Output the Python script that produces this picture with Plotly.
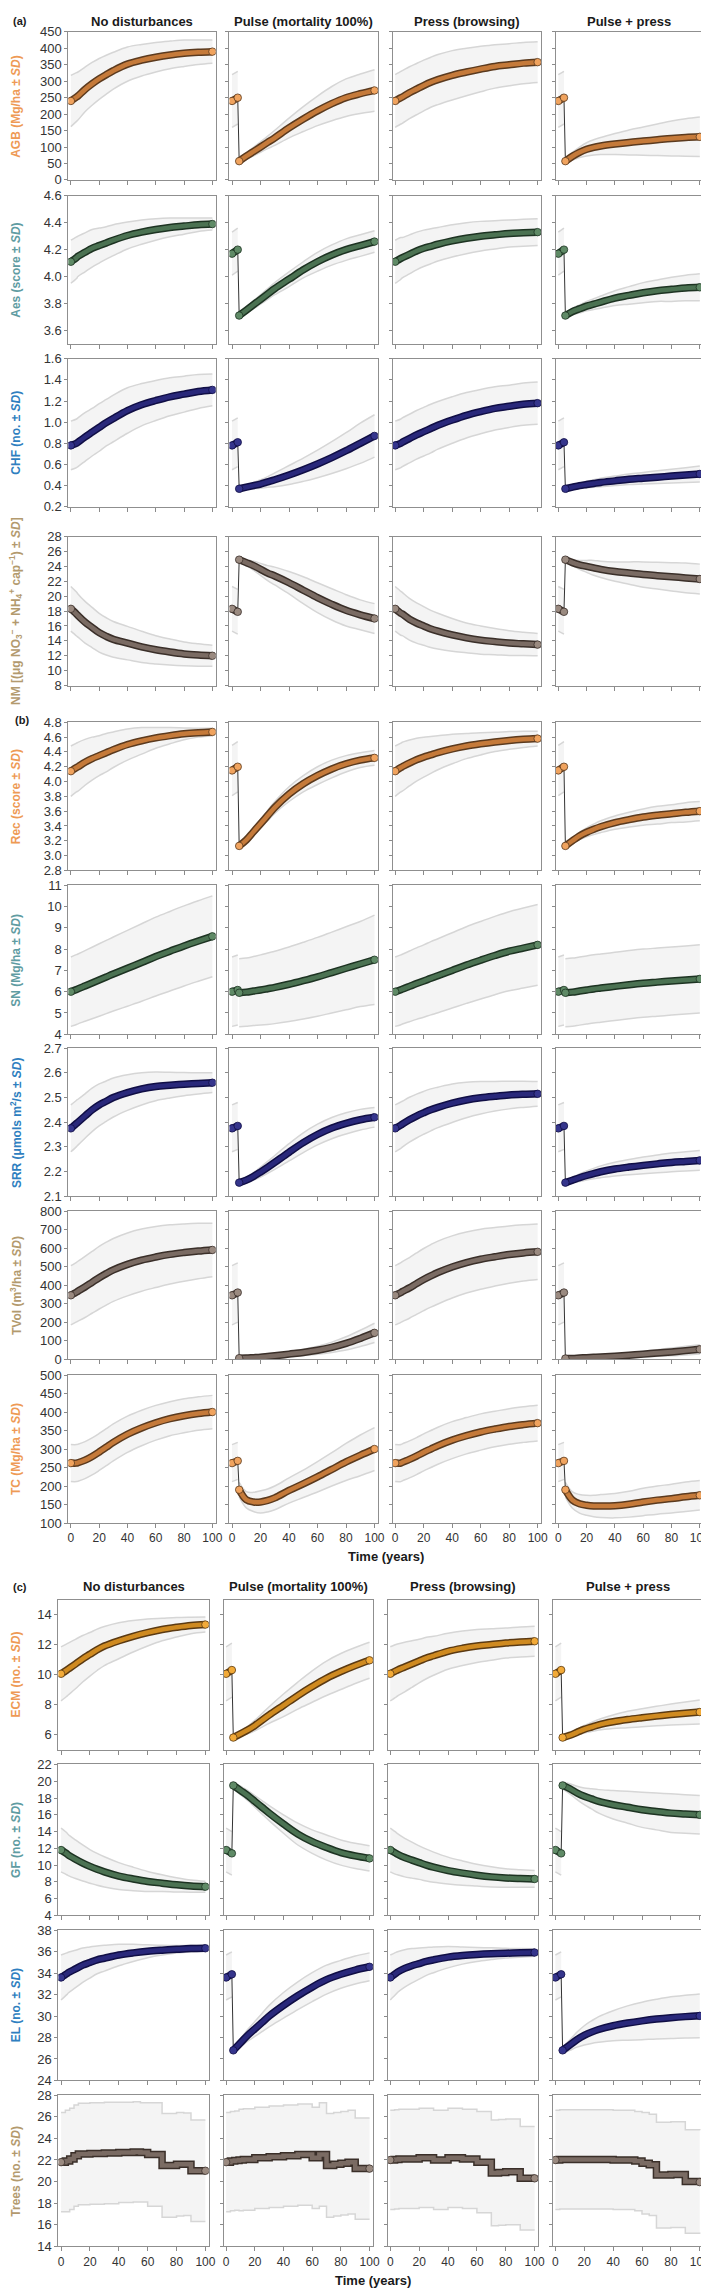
import plotly.graph_objects as go

W, H = 709, 2288
T = [0, 4, 5, 10, 15, 20, 25, 30, 40, 50, 60, 70, 80, 90, 100]
T_trees = [0, 3, 6, 9, 12, 20, 30, 40, 50, 55, 60, 65, 70, 75, 80, 85, 90, 95, 100]
scenarios = ["No disturbances", "Pulse (mortality 100%)", "Press (browsing)", "Pulse + press"]
x_ticks = [0, 20, 40, 60, 80, 100]

# ---- (a) ----
agb_nd = [240,252,255,275,292,307,320,332,352,364,373,380,385,388,390]
agb_nd_sd = [78,74,73,68,65,62,59,56,52,48,45,42,40,37,35]
agb_pu = [240,250,57,72,86,100,114,128,158,185,210,232,250,262,272]
agb_pu_sd = [80,80,8,10,13,16,19,23,30,38,45,52,57,60,63]
agb_pr = [240,250,252,265,276,287,297,305,318,328,337,345,350,355,358]
agb_pr_sd = [80,80,80,79,78,77,76,76,75,72,69,66,64,63,62]
agb_pp = [240,250,57,72,84,93,99,103,109,114,118,122,126,129,131]
agb_pp_sd = [80,80,8,12,16,20,23,26,32,38,43,48,53,57,60]

aes_nd = [4.11,4.14,4.15,4.18,4.21,4.23,4.25,4.27,4.305,4.33,4.35,4.365,4.375,4.385,4.39]
aes_nd_sd = [0.16,0.155,0.15,0.145,0.14,0.13,0.12,0.115,0.10,0.09,0.08,0.07,0.06,0.05,0.045]
aes_pu = [4.17,4.20,3.71,3.75,3.79,3.83,3.87,3.91,3.98,4.05,4.11,4.16,4.20,4.23,4.26]
aes_pu_sd = [0.16,0.16,0.02,0.02,0.03,0.035,0.04,0.045,0.055,0.06,0.07,0.075,0.08,0.08,0.08]
aes_pr = [4.11,4.135,4.14,4.165,4.19,4.21,4.225,4.24,4.265,4.285,4.30,4.31,4.32,4.325,4.33]
aes_pr_sd = [0.16,0.155,0.15,0.145,0.14,0.135,0.13,0.125,0.12,0.115,0.11,0.105,0.10,0.10,0.10]
aes_pp = [4.17,4.20,3.71,3.74,3.76,3.78,3.795,3.81,3.84,3.86,3.88,3.895,3.905,3.915,3.92]
aes_pp_sd = [0.16,0.16,0.02,0.025,0.03,0.035,0.04,0.045,0.055,0.065,0.075,0.08,0.09,0.095,0.10]

chf_nd = [0.78,0.80,0.81,0.86,0.905,0.95,0.995,1.035,1.11,1.165,1.205,1.24,1.265,1.29,1.305]
chf_nd_sd = [0.23,0.23,0.23,0.23,0.225,0.225,0.22,0.22,0.215,0.2,0.19,0.18,0.17,0.16,0.15]
chf_pu = [0.78,0.81,0.37,0.385,0.40,0.415,0.435,0.455,0.50,0.55,0.605,0.665,0.73,0.80,0.87]
chf_pu_sd = [0.23,0.23,0.015,0.02,0.03,0.04,0.05,0.065,0.09,0.11,0.13,0.15,0.17,0.19,0.2]
chf_pr = [0.78,0.80,0.81,0.845,0.88,0.91,0.94,0.97,1.02,1.065,1.10,1.13,1.15,1.17,1.18]
chf_pr_sd = [0.23,0.23,0.23,0.23,0.23,0.23,0.23,0.225,0.22,0.215,0.21,0.205,0.2,0.2,0.2]
chf_pp = [0.78,0.81,0.37,0.385,0.40,0.41,0.42,0.43,0.445,0.46,0.47,0.48,0.49,0.50,0.51]
chf_pp_sd = [0.23,0.23,0.015,0.02,0.025,0.03,0.035,0.04,0.045,0.05,0.055,0.06,0.065,0.07,0.075]

nm_nd = [18.3,17.6,17.4,16.5,15.8,15.1,14.6,14.2,13.7,13.2,12.8,12.5,12.25,12.1,12.0]
nm_nd_sd = [3.0,2.95,2.9,2.8,2.7,2.6,2.5,2.4,2.25,2.1,1.9,1.75,1.6,1.5,1.4]
nm_pu = [18.3,17.9,24.9,24.5,24.1,23.6,23.1,22.7,21.8,20.8,19.8,18.9,18.1,17.5,17.0]
nm_pu_sd = [3.0,3.0,0.3,0.4,0.6,0.8,1.0,1.2,1.5,1.8,2.0,2.1,2.1,2.0,2.0]
nm_pr = [18.3,17.7,17.6,16.9,16.4,16.0,15.6,15.3,14.8,14.4,14.1,13.9,13.7,13.6,13.5]
nm_pr_sd = [3.0,2.95,2.9,2.8,2.7,2.6,2.5,2.4,2.2,2.0,1.9,1.75,1.65,1.55,1.5]
nm_pp = [18.3,17.9,24.9,24.5,24.2,24.0,23.8,23.6,23.3,23.1,22.9,22.75,22.6,22.45,22.3]
nm_pp_sd = [3.0,3.0,0.3,0.4,0.6,0.8,1.0,1.1,1.3,1.5,1.7,1.8,1.9,2.0,2.0]

# ---- (b) ----
rec_nd = [4.14,4.19,4.20,4.26,4.31,4.35,4.39,4.43,4.50,4.55,4.59,4.62,4.645,4.66,4.67]
rec_nd_sd = [0.34,0.33,0.33,0.31,0.29,0.27,0.26,0.24,0.21,0.18,0.14,0.11,0.08,0.06,0.05]
rec_pu = [4.15,4.20,3.13,3.21,3.32,3.43,3.54,3.65,3.83,3.97,4.08,4.17,4.24,4.29,4.32]
rec_pu_sd = [0.34,0.34,0.03,0.04,0.05,0.06,0.07,0.08,0.10,0.11,0.12,0.12,0.11,0.10,0.10]
rec_pr = [4.14,4.19,4.20,4.25,4.295,4.33,4.36,4.39,4.44,4.48,4.51,4.535,4.555,4.57,4.58]
rec_pr_sd = [0.34,0.33,0.33,0.31,0.29,0.27,0.25,0.23,0.2,0.17,0.15,0.13,0.12,0.11,0.10]
rec_pp = [4.15,4.20,3.13,3.20,3.265,3.315,3.355,3.39,3.445,3.485,3.52,3.545,3.565,3.585,3.60]
rec_pp_sd = [0.34,0.34,0.03,0.04,0.05,0.06,0.07,0.08,0.09,0.10,0.11,0.12,0.12,0.13,0.13]

sn_nd = [6.0,6.1,6.13,6.27,6.41,6.55,6.69,6.83,7.1,7.37,7.65,7.9,8.15,8.38,8.6]
sn_nd_sd = [1.63,1.64,1.64,1.66,1.68,1.7,1.72,1.74,1.78,1.82,1.85,1.87,1.88,1.89,1.9]
sn_pu = [6.0,6.08,5.95,5.98,6.03,6.08,6.14,6.2,6.35,6.52,6.7,6.9,7.1,7.3,7.5]
sn_pu_sd = [1.63,1.64,1.6,1.6,1.62,1.65,1.68,1.7,1.75,1.8,1.85,1.9,1.95,2.0,2.1]
sn_pr = [6.0,6.09,6.12,6.25,6.38,6.5,6.63,6.75,7.0,7.25,7.48,7.7,7.9,8.05,8.2]
sn_pr_sd = [1.63,1.64,1.64,1.66,1.68,1.7,1.72,1.74,1.77,1.8,1.82,1.84,1.86,1.88,1.9]
sn_pp = [6.0,6.08,5.95,5.98,6.03,6.08,6.13,6.17,6.25,6.33,6.4,6.45,6.5,6.55,6.6]
sn_pp_sd = [1.63,1.64,1.6,1.6,1.6,1.6,1.6,1.6,1.6,1.6,1.6,1.6,1.6,1.6,1.6]

srr_nd = [2.375,2.395,2.40,2.425,2.45,2.47,2.485,2.50,2.52,2.535,2.545,2.55,2.554,2.557,2.56]
srr_nd_sd = [0.095,0.094,0.093,0.09,0.088,0.085,0.082,0.079,0.072,0.065,0.058,0.052,0.047,0.043,0.04]
srr_pu = [2.375,2.385,2.155,2.165,2.18,2.198,2.217,2.237,2.278,2.317,2.35,2.376,2.395,2.41,2.42]
srr_pu_sd = [0.095,0.095,0.01,0.012,0.015,0.02,0.024,0.028,0.035,0.04,0.042,0.043,0.043,0.042,0.04]
srr_pr = [2.375,2.388,2.392,2.41,2.425,2.438,2.45,2.46,2.477,2.49,2.499,2.505,2.51,2.513,2.515]
srr_pr_sd = [0.095,0.094,0.093,0.091,0.089,0.087,0.085,0.082,0.078,0.072,0.066,0.06,0.056,0.053,0.05]
srr_pp = [2.375,2.385,2.155,2.165,2.175,2.184,2.192,2.199,2.21,2.218,2.225,2.231,2.237,2.241,2.245]
srr_pp_sd = [0.095,0.095,0.01,0.012,0.015,0.018,0.021,0.024,0.028,0.031,0.034,0.036,0.038,0.039,0.04]

tvol_nd = [345,362,367,390,415,440,462,482,512,535,552,566,576,584,590]
tvol_nd_sd = [160,161,162,165,167,169,170,170,170,168,165,160,155,150,145]
tvol_pu = [345,360,5,6,8,10,14,18,27,36,48,64,85,112,142]
tvol_pu_sd = [160,160,3,4,5,6,8,10,13,17,22,28,36,44,52]
tvol_pr = [345,360,365,385,408,430,450,468,498,522,540,553,565,574,580]
tvol_pr_sd = [160,161,162,164,166,168,169,170,168,165,162,158,155,152,150]
tvol_pp = [345,360,3,4,6,8,10,12,16,21,27,33,39,46,53]
tvol_pp_sd = [160,160,3,3,4,5,6,7,9,12,15,18,21,23,25]

tc_nd = [262,262,263,270,280,292,305,318,340,357,371,382,390,396,400]
tc_nd_sd = [50,50,50,50,50,50,50,50,49,48,47,46,46,45,45]
tc_pu = [262,268,190,163,157,157,161,168,188,206,225,245,265,283,300]
tc_pu_sd = [50,50,20,22,26,30,31,32,34,37,41,45,50,55,58]
tc_pr = [262,262,264,272,281,291,300,309,324,336,346,354,361,366,370]
tc_pr_sd = [50,50,50,50,50,50,50,50,50,49,49,48,48,48,48]
tc_pp = [262,268,190,162,152,148,146,146,147,151,157,162,166,171,175]
tc_pp_sd = [50,50,20,22,25,27,29,31,33,35,37,38,39,40,40]

# ---- (c) ----
ecm_nd = [10.05,10.3,10.37,10.7,11.05,11.35,11.65,11.9,12.25,12.55,12.8,13.0,13.15,13.27,13.33]
ecm_nd_sd = [1.8,1.75,1.73,1.65,1.55,1.45,1.38,1.3,1.2,1.05,0.9,0.75,0.65,0.55,0.5]
ecm_pu = [10.05,10.3,5.8,6.05,6.3,6.6,6.95,7.3,7.95,8.6,9.2,9.75,10.2,10.6,10.95]
ecm_pu_sd = [1.8,1.8,0.1,0.15,0.25,0.35,0.45,0.55,0.75,0.9,1.05,1.15,1.2,1.2,1.2]
ecm_pr = [10.05,10.25,10.3,10.5,10.7,10.9,11.1,11.25,11.55,11.75,11.9,12.0,12.1,12.17,12.22]
ecm_pr_sd = [1.8,1.75,1.73,1.65,1.55,1.45,1.38,1.3,1.2,1.15,1.1,1.05,1.0,1.0,1.0]
ecm_pp = [10.05,10.3,5.8,5.95,6.15,6.35,6.5,6.65,6.85,7.0,7.12,7.23,7.33,7.42,7.5]
ecm_pp_sd = [1.8,1.8,0.1,0.15,0.2,0.25,0.3,0.35,0.45,0.55,0.6,0.65,0.7,0.75,0.8]

gf_nd = [11.8,11.35,11.2,10.7,10.25,9.85,9.5,9.2,8.7,8.35,8.05,7.85,7.65,7.5,7.43]
gf_nd_sd = [2.6,2.5,2.45,2.3,2.15,2.0,1.9,1.8,1.6,1.4,1.2,1.0,0.85,0.72,0.65]
gf_pu = [11.8,11.4,19.5,18.9,18.3,17.6,16.9,16.2,14.9,13.7,12.8,12.1,11.5,11.1,10.8]
gf_pu_sd = [2.6,2.6,0.4,0.5,0.6,0.7,0.8,0.9,1.1,1.3,1.4,1.5,1.5,1.5,1.5]
gf_pr = [11.8,11.4,11.3,10.9,10.6,10.3,10.0,9.75,9.35,9.05,8.8,8.6,8.47,8.4,8.35]
gf_pr_sd = [2.6,2.5,2.45,2.3,2.15,2.0,1.9,1.8,1.6,1.45,1.3,1.2,1.1,1.05,1.0]
gf_pp = [11.8,11.4,19.5,19.1,18.6,18.2,17.9,17.6,17.2,16.9,16.6,16.4,16.2,16.1,16.0]
gf_pp_sd = [2.6,2.6,0.4,0.6,0.8,1.0,1.2,1.4,1.7,1.9,2.1,2.2,2.3,2.3,2.3]

el_nd = [33.6,33.95,34.05,34.4,34.75,35.0,35.25,35.4,35.7,35.9,36.05,36.15,36.23,36.3,36.33]
el_nd_sd = [2.1,1.95,1.9,1.75,1.6,1.45,1.3,1.2,1.0,0.8,0.6,0.45,0.35,0.3,0.25]
el_pu = [33.6,33.9,26.8,27.5,28.2,28.8,29.4,30.0,31.0,31.9,32.7,33.4,33.9,34.3,34.6]
el_pu_sd = [2.1,2.1,0.3,0.4,0.55,0.7,0.85,1.0,1.2,1.3,1.35,1.35,1.3,1.3,1.3]
el_pr = [33.6,34.0,34.1,34.45,34.7,34.9,35.1,35.25,35.5,35.65,35.75,35.82,35.87,35.9,35.93]
el_pr_sd = [2.1,1.95,1.9,1.75,1.6,1.45,1.3,1.2,1.0,0.8,0.65,0.55,0.45,0.4,0.35]
el_pp = [33.6,33.9,26.8,27.3,27.8,28.2,28.5,28.75,29.1,29.35,29.55,29.72,29.85,29.95,30.02]
el_pp_sd = [2.1,2.1,0.3,0.5,0.7,0.9,1.05,1.2,1.4,1.6,1.75,1.85,1.95,2.0,2.05]

trees_nd = [21.8,21.9,22.1,22.4,22.55,22.6,22.65,22.7,22.75,22.7,22.5,22.5,21.5,21.5,21.6,21.6,21.0,21.0,21.0]
trees_nd_sd = [4.6,4.7,4.7,4.7,4.7,4.7,4.7,4.65,4.65,4.6,4.8,4.8,4.8,4.8,4.8,4.75,4.7,4.7,4.7]
trees_pu = [21.8,21.9,21.95,22.0,22.05,22.2,22.3,22.4,22.5,22.5,22.2,22.5,21.5,21.6,21.7,21.8,21.2,21.2,21.2]
trees_pu_sd = [4.6,4.6,4.6,4.7,4.7,4.7,4.7,4.7,4.7,4.7,4.7,4.8,4.8,4.8,4.8,4.8,4.7,4.7,4.7]
trees_pr = [22.0,22.05,22.1,22.1,22.1,22.2,22.0,22.2,22.1,22.1,21.8,21.8,20.8,20.85,20.9,20.9,20.3,20.3,20.3]
trees_pr_sd = [4.6,4.6,4.6,4.6,4.6,4.6,4.6,4.6,4.6,4.6,4.7,4.7,4.9,4.9,4.9,4.9,4.8,4.8,4.8]
trees_pp = [22.0,22.05,22.05,22.05,22.05,22.05,22.05,22.0,22.0,21.9,21.7,21.55,20.6,20.6,20.65,20.65,20.0,20.0,19.95]
trees_pp_sd = [4.6,4.6,4.6,4.6,4.6,4.6,4.6,4.6,4.6,4.6,4.7,4.7,4.9,4.9,4.9,4.9,4.8,4.8,4.8]

# ---- styling ----
PAL = {
    "orange": dict(title="#EE9A55", out="#5b3a1e", inn="#c57a3a", mk="#f0a35e"),
    "gold":   dict(title="#EE9A55", out="#5b3a12", inn="#cf8a20", mk="#f2aa38"),
    "green":  dict(title="#5f9ca2", out="#1d3322", inn="#4b7252", mk="#5f8a66"),
    "blue":   dict(title="#2f7fc0", out="#100e45", inn="#29287a", mk="#35358c"),
    "tan":    dict(title="#b39a6e", out="#3a2f29", inn="#7a6b63", mk="#9a8a80"),
}

A_COLS = [(60, 209), (223, 373), (388, 538), (553, 702)]
C_COLS = [(50, 202), (217, 368), (383, 535), (550, 702)]

rows = [
    ("AGB (Mg/ha ± <i>SD</i>)", [0, 450], list(range(0, 451, 50)), "{:d}", "orange",
     [(agb_nd, agb_nd_sd), (agb_pu, agb_pu_sd), (agb_pr, agb_pr_sd), (agb_pp, agb_pp_sd)], 17, 166, A_COLS, False),
    ("Aes (score ± <i>SD</i>)", [3.5, 4.6], [3.6, 3.8, 4.0, 4.2, 4.4, 4.6], "{:.1f}", "green",
     [(aes_nd, aes_nd_sd), (aes_pu, aes_pu_sd), (aes_pr, aes_pr_sd), (aes_pp, aes_pp_sd)], 182, 331, A_COLS, False),
    ("CHF (no. ± <i>SD</i>)", [0.2, 1.6], [0.2, 0.4, 0.6, 0.8, 1.0, 1.2, 1.4, 1.6], "{:.1f}", "blue",
     [(chf_nd, chf_nd_sd), (chf_pu, chf_pu_sd), (chf_pr, chf_pr_sd), (chf_pp, chf_pp_sd)], 346, 495, A_COLS, False),
    ("NM [(μg NO<sub>3</sub><sup>−</sup> + NH<sub>4</sub><sup>+</sup> cap<sup>−1</sup>) ± <i>SD</i>]", [8, 28], list(range(8, 29, 2)), "{:d}", "tan",
     [(nm_nd, nm_nd_sd), (nm_pu, nm_pu_sd), (nm_pr, nm_pr_sd), (nm_pp, nm_pp_sd)], 525, 675, A_COLS, False),
    ("Rec (score ± <i>SD</i>)", [2.8, 4.8], [2.8, 3.0, 3.2, 3.4, 3.6, 3.8, 4.0, 4.2, 4.4, 4.6, 4.8], "{:.1f}", "orange",
     [(rec_nd, rec_nd_sd), (rec_pu, rec_pu_sd), (rec_pr, rec_pr_sd), (rec_pp, rec_pp_sd)], 712, 861, A_COLS, False),
    ("SN (Mg/ha ± <i>SD</i>)", [4, 11], list(range(4, 12)), "{:d}", "green",
     [(sn_nd, sn_nd_sd), (sn_pu, sn_pu_sd), (sn_pr, sn_pr_sd), (sn_pp, sn_pp_sd)], 876, 1026, A_COLS, False),
    ("SRR (μmols m<sup>2</sup>/s ± <i>SD</i>)", [2.1, 2.7], [2.1, 2.2, 2.3, 2.4, 2.5, 2.6, 2.7], "{:.1f}", "blue",
     [(srr_nd, srr_nd_sd), (srr_pu, srr_pu_sd), (srr_pr, srr_pr_sd), (srr_pp, srr_pp_sd)], 1040, 1189, A_COLS, False),
    ("TVol (m<sup>3</sup>/ha ± <i>SD</i>)", [0, 800], list(range(0, 801, 100)), "{:d}", "tan",
     [(tvol_nd, tvol_nd_sd), (tvol_pu, tvol_pu_sd), (tvol_pr, tvol_pr_sd), (tvol_pp, tvol_pp_sd)], 1204, 1353, A_COLS, False),
    ("TC (Mg/ha ± <i>SD</i>)", [100, 500], list(range(100, 501, 50)), "{:d}", "orange",
     [(tc_nd, tc_nd_sd), (tc_pu, tc_pu_sd), (tc_pr, tc_pr_sd), (tc_pp, tc_pp_sd)], 1369, 1518, A_COLS, True),
    ("ECM (no. ± <i>SD</i>)", [5, 15], [6, 8, 10, 12, 14], "{:d}", "gold",
     [(ecm_nd, ecm_nd_sd), (ecm_pu, ecm_pu_sd), (ecm_pr, ecm_pr_sd), (ecm_pp, ecm_pp_sd)], 1595, 1746, C_COLS, False),
    ("GF (no. ± <i>SD</i>)", [4, 22], list(range(4, 23, 2)), "{:d}", "green",
     [(gf_nd, gf_nd_sd), (gf_pu, gf_pu_sd), (gf_pr, gf_pr_sd), (gf_pp, gf_pp_sd)], 1761, 1913, C_COLS, False),
    ("EL (no. ± <i>SD</i>)", [24, 38], list(range(24, 39, 2)), "{:d}", "blue",
     [(el_nd, el_nd_sd), (el_pu, el_pu_sd), (el_pr, el_pr_sd), (el_pp, el_pp_sd)], 1928, 2079, C_COLS, False),
    ("Trees (no. ± <i>SD</i>)", [14, 28], list(range(14, 29, 2)), "{:d}", "tan",
     [(trees_nd, trees_nd_sd), (trees_pu, trees_pu_sd), (trees_pr, trees_pr_sd), (trees_pp, trees_pp_sd)], 2094, 2246, C_COLS, True),
]

FONT = "Liberation Sans, Arial, sans-serif"
fig = go.Figure()
layout = {}
annotations = []
k = 0


def band_and_line(xs, m, s, xa, ya, shape):
    lo = [a - b for a, b in zip(m, s)]
    hi = [a + b for a, b in zip(m, s)]
    fig.add_trace(go.Scatter(x=xs, y=lo, mode="lines", xaxis=xa, yaxis=ya,
                             line=dict(color="#d6d6d6", width=1.5, shape=shape), hoverinfo="skip", showlegend=False))
    fig.add_trace(go.Scatter(x=xs, y=hi, mode="lines", xaxis=xa, yaxis=ya, fill="tonexty",
                             fillcolor="rgba(236,236,236,0.6)",
                             line=dict(color="#d6d6d6", width=1.5, shape=shape), hoverinfo="skip", showlegend=False))


def mean_line(xs, m, xa, ya, pal, shape):
    fig.add_trace(go.Scatter(x=xs, y=m, mode="lines", xaxis=xa, yaxis=ya,
                             line=dict(color=pal["out"], width=7.5, shape=shape), showlegend=False))
    fig.add_trace(go.Scatter(x=xs, y=m, mode="lines", xaxis=xa, yaxis=ya,
                             line=dict(color=pal["inn"], width=4.5, shape=shape), showlegend=False))
    fig.add_trace(go.Scatter(x=[xs[0], xs[-1]], y=[m[0], m[-1]], mode="markers", xaxis=xa, yaxis=ya,
                             marker=dict(size=7.5, color=pal["mk"], line=dict(color=pal["out"], width=0.8)),
                             showlegend=False))


for r, (ytitle, yr, yt, fmt, pkey, series, top, bot, cols, xlab) in enumerate(rows):
    is_trees = ytitle.startswith("Trees")
    pal = PAL[pkey]
    for c in range(4):
        k += 1
        xa, ya = f"x{k}", f"y{k}"
        xl, xr = cols[c]
        layout[f"xaxis{k}"] = dict(
            domain=[xl / W, xr / W], anchor=ya, range=[-1.8, 102.3],
            tickvals=x_ticks, showticklabels=xlab, ticks="outside", ticklen=4, tickcolor="#8a8a8a",
            ticklabeloverflow="allow",
            showline=True, mirror=True, linecolor="#8f8f8f", linewidth=1, showgrid=False, zeroline=False,
            tickfont=dict(family=FONT, size=12, color="#333333"))
        layout[f"yaxis{k}"] = dict(
            domain=[1 - bot / H, 1 - top / H], anchor=xa, range=yr,
            tickvals=yt, ticktext=[fmt.format(v) for v in yt], showticklabels=(c == 0),
            ticks="outside", ticklen=3, tickcolor="#8a8a8a",
            showline=True, mirror=True, linecolor="#8f8f8f", linewidth=1, showgrid=False, zeroline=False,
            tickfont=dict(family=FONT, size=13, color="#333333"))
        m, s = series[c]
        if is_trees:
            band_and_line(T_trees, m, s, xa, ya, "hv")
            mean_line(T_trees, m, xa, ya, pal, "hv")
        elif c in (1, 3):
            band_and_line(T[:2], m[:2], s[:2], xa, ya, "linear")
            band_and_line(T[2:], m[2:], s[2:], xa, ya, "spline")
            fig.add_trace(go.Scatter(x=T[1:3], y=m[1:3], mode="lines", xaxis=xa, yaxis=ya,
                                     line=dict(color="#333333", width=1), showlegend=False))
            mean_line(T[:2], m[:2], xa, ya, pal, "linear")
            mean_line(T[2:], m[2:], xa, ya, pal, "spline")
        else:
            band_and_line(T, m, s, xa, ya, "spline")
            mean_line(T, m, xa, ya, pal, "spline")
    annotations.append(dict(x=7 / W, y=1 - (top + bot) / 2 / H, xref="paper", yref="paper",
                            text=f"<b>{ytitle}</b>", textangle=-90, showarrow=False,
                            xanchor="center", yanchor="middle",
                            font=dict(family=FONT, size=12, color=pal["title"])))

for cols, ty in ((A_COLS, 7), (C_COLS, 1582)):
    for c, name in enumerate(scenarios):
        xl, xr = cols[c]
        annotations.append(dict(x=(xl + xr) / 2 / W, y=1 - ty / H, xref="paper", yref="paper",
                                text=f"<b>{name}</b>", showarrow=False, xanchor="center", yanchor="middle",
                                font=dict(family=FONT, size=13, color="#1a1a1a")))

for lab, lx, ly in (("(a)", 2, 6), ("(b)", 4, 710), ("(c)", 2, 1582)):
    annotations.append(dict(x=lx / W, y=1 - ly / H, xref="paper", yref="paper", text=f"<b>{lab}</b>",
                            showarrow=False, xanchor="left", yanchor="middle",
                            font=dict(family=FONT, size=11, color="#1a1a1a")))

for tx, ty in ((381, 1552), (368, 2280)):
    annotations.append(dict(x=tx / W, y=1 - ty / H, xref="paper", yref="paper", text="<b>Time (years)</b>",
                            showarrow=False, xanchor="center", yanchor="middle",
                            font=dict(family=FONT, size=13, color="#1a1a1a")))

fig.update_layout(width=W, height=H, margin=dict(l=0, r=0, t=0, b=0),
                  paper_bgcolor="white", plot_bgcolor="white", showlegend=False,
                  annotations=annotations, **layout)
fig.write_html("out.html")
